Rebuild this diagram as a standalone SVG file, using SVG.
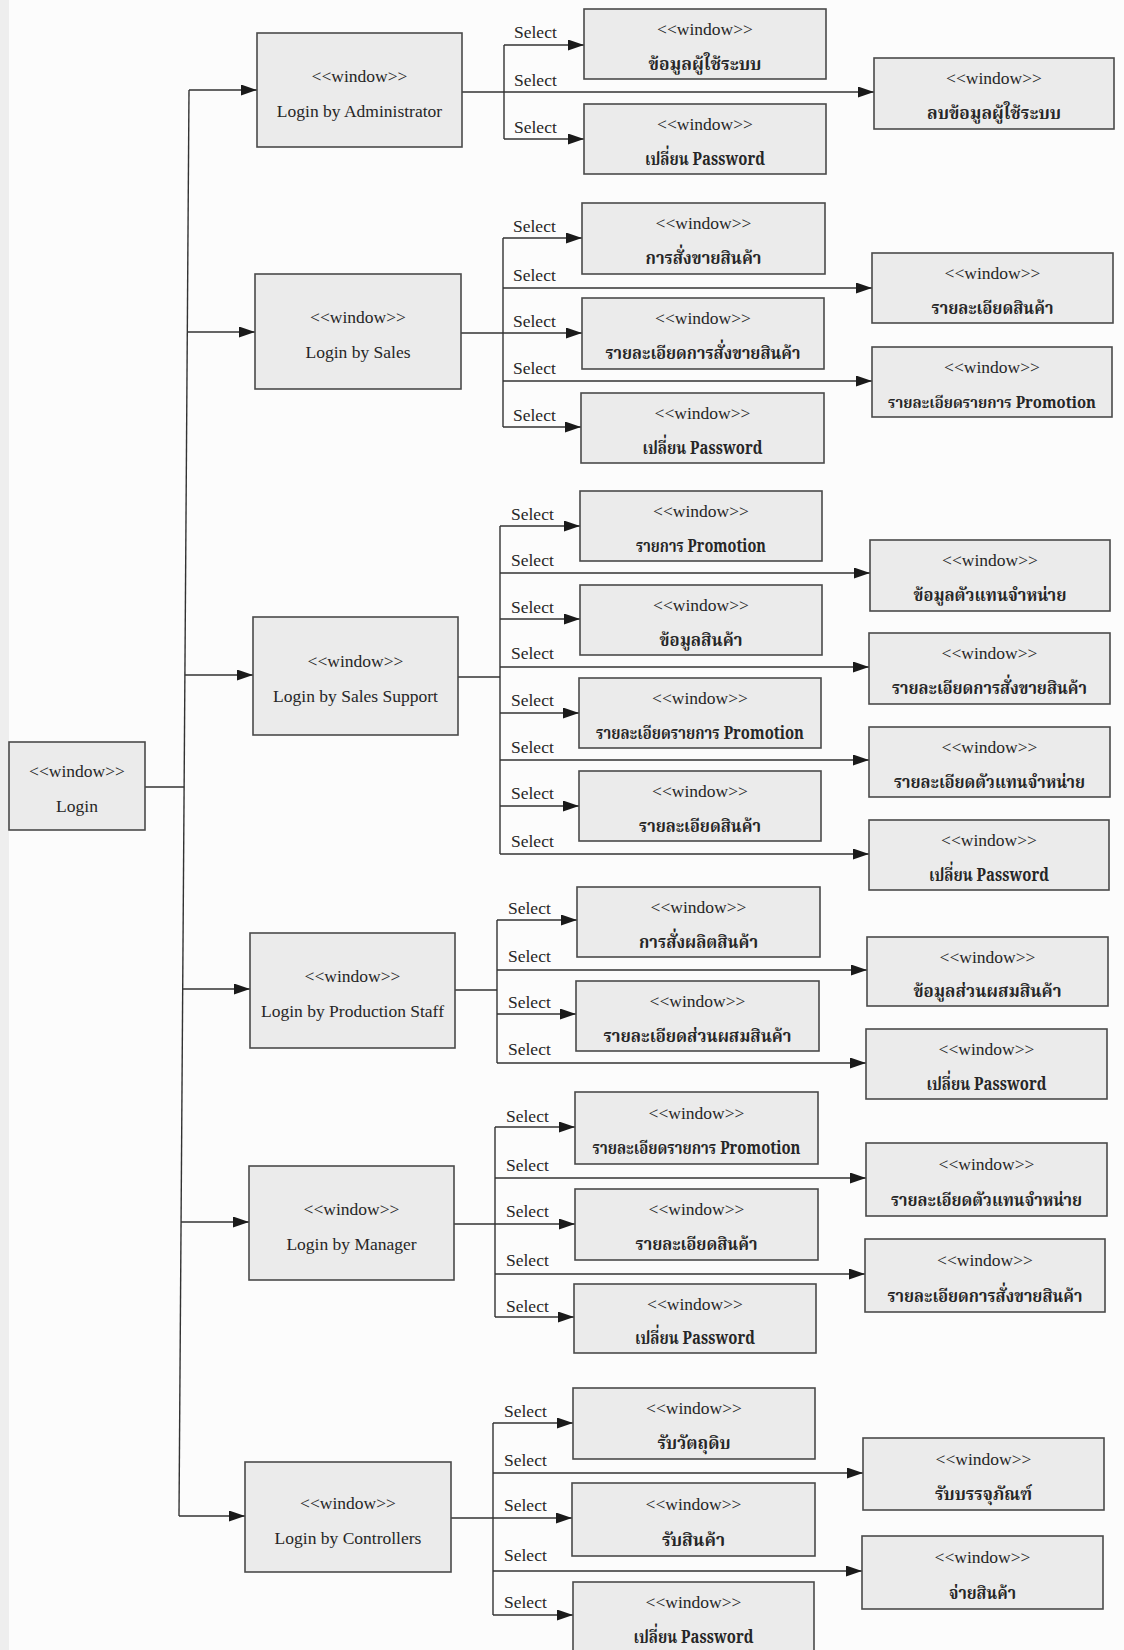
<svg xmlns="http://www.w3.org/2000/svg" width="1124" height="1650" viewBox="0 0 1124 1650">
<defs>
<style>
.bg{fill:#fcfcfc}
.box{fill:#ebebeb;stroke:#4a4a4a;stroke-width:1.6}
.w{font-family:"Liberation Serif","Times New Roman",serif;font-size:17.5px;fill:#262626;text-anchor:middle}
.th{font-family:"Noto Serif Thai","Noto Sans Thai","Liberation Serif","Garuda","Loma","Tlwg Typo",serif;font-size:18.5px;font-weight:bold;fill:#262626;text-anchor:middle}
.pr{font-size:17.5px}
.pr2{font-size:16px}
.sel{font-family:"Liberation Serif","Times New Roman",serif;font-size:17.5px;fill:#262626}
.ln{fill:none;stroke:#333;stroke-width:1.4}
.ar{fill:none;stroke:#333;stroke-width:1.4;marker-end:url(#ah)}
</style>
<marker id="ah" markerUnits="userSpaceOnUse" markerWidth="17" markerHeight="12" refX="16" refY="5.5" orient="auto">
<path d="M0,0 L16,5.5 L0,11 z" fill="#1a1a1a"/>
</marker>
</defs>
<rect class="bg" x="0" y="0" width="1124" height="1650"/>
<rect x="0" y="0" width="9" height="1650" fill="#eeeeee"/>

<g id="connectors">
<path class="ln" d="M189,90 L179,1516"/>
<path class="ln" d="M145,787 L184.1,787"/>
<path class="ar" d="M189,90 L257,90"/>
<path class="ar" d="M187.3,332 L255,332"/>
<path class="ar" d="M184.9,675 L253,675"/>
<path class="ar" d="M182.7,989 L250,989"/>
<path class="ar" d="M181.1,1222 L249,1222"/>
<path class="ar" d="M179,1516 L245,1516"/>

<path class="ln" d="M462,92 L504,92"/>
<path class="ln" d="M504,45 L504,139"/>
<path class="ar" d="M504,45 L584,45"/>
<path class="ar" d="M504,92 L874,92"/>
<path class="ar" d="M504,139 L584,139"/>

<path class="ln" d="M461,333 L503,333"/>
<path class="ln" d="M503,238 L503,427"/>
<path class="ar" d="M503,238 L582,238"/>
<path class="ar" d="M503,288 L872,288"/>
<path class="ar" d="M503,333 L582,333"/>
<path class="ar" d="M503,381 L872,381"/>
<path class="ar" d="M503,427 L581,427"/>

<path class="ln" d="M458,677 L500,677"/>
<path class="ln" d="M500,526 L500,854"/>
<path class="ar" d="M500,526 L580,526"/>
<path class="ar" d="M500,573 L870,573"/>
<path class="ar" d="M500,619 L580,619"/>
<path class="ar" d="M500,667 L869,667"/>
<path class="ar" d="M500,713 L579,713"/>
<path class="ar" d="M500,760 L869,760"/>
<path class="ar" d="M500,806 L579,806"/>
<path class="ar" d="M500,854 L869,854"/>

<path class="ln" d="M455,990 L497,990"/>
<path class="ln" d="M497,920 L497,1063"/>
<path class="ar" d="M497,920 L577,920"/>
<path class="ar" d="M497,970 L867,970"/>
<path class="ar" d="M497,1014 L576,1014"/>
<path class="ar" d="M497,1063 L866,1063"/>

<path class="ln" d="M454,1224 L495,1224"/>
<path class="ln" d="M495,1127 L495,1317"/>
<path class="ar" d="M495,1127 L575,1127"/>
<path class="ar" d="M495,1178 L866,1178"/>
<path class="ar" d="M495,1224 L575,1224"/>
<path class="ar" d="M495,1274 L865,1274"/>
<path class="ar" d="M495,1317 L574,1317"/>

<path class="ln" d="M451,1518 L493,1518"/>
<path class="ln" d="M493,1423 L493,1615"/>
<path class="ar" d="M493,1423 L573,1423"/>
<path class="ar" d="M493,1473 L863,1473"/>
<path class="ar" d="M493,1518 L572,1518"/>
<path class="ar" d="M493,1571 L862,1571"/>
<path class="ar" d="M493,1615 L573,1615"/>
</g>

<g id="labels">
<text class="sel" x="514" y="38">Select</text>
<text class="sel" x="514" y="86">Select</text>
<text class="sel" x="514" y="133">Select</text>
<text class="sel" x="513" y="232">Select</text>
<text class="sel" x="513" y="281">Select</text>
<text class="sel" x="513" y="327">Select</text>
<text class="sel" x="513" y="374">Select</text>
<text class="sel" x="513" y="421">Select</text>
<text class="sel" x="511" y="520">Select</text>
<text class="sel" x="511" y="566">Select</text>
<text class="sel" x="511" y="613">Select</text>
<text class="sel" x="511" y="659">Select</text>
<text class="sel" x="511" y="706">Select</text>
<text class="sel" x="511" y="753">Select</text>
<text class="sel" x="511" y="799">Select</text>
<text class="sel" x="511" y="847">Select</text>
<text class="sel" x="508" y="914">Select</text>
<text class="sel" x="508" y="962">Select</text>
<text class="sel" x="508" y="1008">Select</text>
<text class="sel" x="508" y="1055">Select</text>
<text class="sel" x="506" y="1122">Select</text>
<text class="sel" x="506" y="1171">Select</text>
<text class="sel" x="506" y="1217">Select</text>
<text class="sel" x="506" y="1266">Select</text>
<text class="sel" x="506" y="1312">Select</text>
<text class="sel" x="504" y="1417">Select</text>
<text class="sel" x="504" y="1466">Select</text>
<text class="sel" x="504" y="1511">Select</text>
<text class="sel" x="504" y="1561">Select</text>
<text class="sel" x="504" y="1608">Select</text>
</g>

<g id="n-login"><rect class="box" x="9" y="742" width="136" height="88"/><text class="w" x="77" y="777">&lt;&lt;window&gt;&gt;</text><text class="w" x="77" y="812">Login</text></g>
<g id="n-admin"><rect class="box" x="257" y="33" width="205" height="114"/><text class="w" x="359.5" y="82">&lt;&lt;window&gt;&gt;</text><text class="w" x="359.5" y="117">Login by Administrator</text></g>
<g id="n-sales"><rect class="box" x="255" y="274" width="206" height="115"/><text class="w" x="358" y="323">&lt;&lt;window&gt;&gt;</text><text class="w" x="358" y="358">Login by Sales</text></g>
<g id="n-salessupport"><rect class="box" x="253" y="617" width="205" height="118"/><text class="w" x="355.5" y="667">&lt;&lt;window&gt;&gt;</text><text class="w" x="355.5" y="702">Login by Sales Support</text></g>
<g id="n-production"><rect class="box" x="250" y="933" width="205" height="115"/><text class="w" x="352.5" y="982">&lt;&lt;window&gt;&gt;</text><text class="w" x="352.5" y="1017">Login by Production Staff</text></g>
<g id="n-manager"><rect class="box" x="249" y="1166" width="205" height="114"/><text class="w" x="351.5" y="1215">&lt;&lt;window&gt;&gt;</text><text class="w" x="351.5" y="1250">Login by Manager</text></g>
<g id="n-controllers"><rect class="box" x="245" y="1462" width="206" height="110"/><text class="w" x="348" y="1509">&lt;&lt;window&gt;&gt;</text><text class="w" x="348" y="1544">Login by Controllers</text></g>

<g id="n-a1"><rect class="box" x="584" y="9" width="242" height="70"/><text class="w" x="705" y="35">&lt;&lt;window&gt;&gt;</text><text class="th" x="705" y="70" textLength="113" lengthAdjust="spacingAndGlyphs">ข้อมูลผู้ใช้ระบบ</text></g>
<g id="n-a2"><rect class="box" x="874" y="58" width="240" height="71"/><text class="w" x="994" y="84">&lt;&lt;window&gt;&gt;</text><text class="th" x="994" y="119" textLength="134" lengthAdjust="spacingAndGlyphs">ลบข้อมูลผู้ใช้ระบบ</text></g>
<g id="n-a3"><rect class="box" x="584" y="104" width="242" height="70"/><text class="w" x="705" y="130">&lt;&lt;window&gt;&gt;</text><text class="th" x="705" y="165" textLength="120" lengthAdjust="spacingAndGlyphs">เปลี่ยน Password</text></g>

<g id="n-s1"><rect class="box" x="582" y="203" width="243" height="71"/><text class="w" x="703.5" y="229">&lt;&lt;window&gt;&gt;</text><text class="th" x="703.5" y="264" textLength="116" lengthAdjust="spacingAndGlyphs">การสั่งขายสินค้า</text></g>
<g id="n-s2"><rect class="box" x="872" y="253" width="241" height="70"/><text class="w" x="992.5" y="279">&lt;&lt;window&gt;&gt;</text><text class="th" x="992.5" y="314" textLength="122" lengthAdjust="spacingAndGlyphs">รายละเอียดสินค้า</text></g>
<g id="n-s3"><rect class="box" x="582" y="298" width="242" height="71"/><text class="w" x="703" y="324">&lt;&lt;window&gt;&gt;</text><text class="th" x="703" y="359" textLength="195" lengthAdjust="spacingAndGlyphs">รายละเอียดการสั่งขายสินค้า</text></g>
<g id="n-s4"><rect class="box" x="872" y="347" width="240" height="70"/><text class="w" x="992" y="373">&lt;&lt;window&gt;&gt;</text><text class="th pr2" x="992" y="408" textLength="208" lengthAdjust="spacingAndGlyphs">รายละเอียดรายการ Promotion</text></g>
<g id="n-s5"><rect class="box" x="581" y="393" width="243" height="70"/><text class="w" x="702.5" y="419">&lt;&lt;window&gt;&gt;</text><text class="th" x="702.5" y="454" textLength="120" lengthAdjust="spacingAndGlyphs">เปลี่ยน Password</text></g>

<g id="n-ss1"><rect class="box" x="580" y="491" width="242" height="70"/><text class="w" x="701" y="517">&lt;&lt;window&gt;&gt;</text><text class="th" x="701" y="552" textLength="130" lengthAdjust="spacingAndGlyphs">รายการ Promotion</text></g>
<g id="n-ss2"><rect class="box" x="870" y="540" width="240" height="71"/><text class="w" x="990" y="566">&lt;&lt;window&gt;&gt;</text><text class="th" x="990" y="601" textLength="153" lengthAdjust="spacingAndGlyphs">ข้อมูลตัวแทนจำหน่าย</text></g>
<g id="n-ss3"><rect class="box" x="580" y="585" width="242" height="70"/><text class="w" x="701" y="611">&lt;&lt;window&gt;&gt;</text><text class="th" x="701" y="646" textLength="83" lengthAdjust="spacingAndGlyphs">ข้อมูลสินค้า</text></g>
<g id="n-ss4"><rect class="box" x="869" y="633" width="241" height="71"/><text class="w" x="989.5" y="659">&lt;&lt;window&gt;&gt;</text><text class="th" x="989.5" y="694" textLength="195" lengthAdjust="spacingAndGlyphs">รายละเอียดการสั่งขายสินค้า</text></g>
<g id="n-ss5"><rect class="box" x="579" y="678" width="242" height="70"/><text class="w" x="700" y="704">&lt;&lt;window&gt;&gt;</text><text class="th pr" x="700" y="739" textLength="208" lengthAdjust="spacingAndGlyphs">รายละเอียดรายการ Promotion</text></g>
<g id="n-ss6"><rect class="box" x="869" y="727" width="241" height="70"/><text class="w" x="989.5" y="753">&lt;&lt;window&gt;&gt;</text><text class="th" x="989.5" y="788" textLength="191" lengthAdjust="spacingAndGlyphs">รายละเอียดตัวแทนจำหน่าย</text></g>
<g id="n-ss7"><rect class="box" x="579" y="771" width="242" height="70"/><text class="w" x="700" y="797">&lt;&lt;window&gt;&gt;</text><text class="th" x="700" y="832" textLength="122" lengthAdjust="spacingAndGlyphs">รายละเอียดสินค้า</text></g>
<g id="n-ss8"><rect class="box" x="869" y="820" width="240" height="70"/><text class="w" x="989" y="846">&lt;&lt;window&gt;&gt;</text><text class="th" x="989" y="881" textLength="120" lengthAdjust="spacingAndGlyphs">เปลี่ยน Password</text></g>

<g id="n-p1"><rect class="box" x="577" y="887" width="243" height="70"/><text class="w" x="698.5" y="913">&lt;&lt;window&gt;&gt;</text><text class="th" x="698.5" y="948" textLength="119" lengthAdjust="spacingAndGlyphs">การสั่งผลิตสินค้า</text></g>
<g id="n-p2"><rect class="box" x="867" y="937" width="241" height="69"/><text class="w" x="987.5" y="963">&lt;&lt;window&gt;&gt;</text><text class="th" x="987.5" y="997" textLength="148" lengthAdjust="spacingAndGlyphs">ข้อมูลส่วนผสมสินค้า</text></g>
<g id="n-p3"><rect class="box" x="576" y="981" width="243" height="70"/><text class="w" x="697.5" y="1007">&lt;&lt;window&gt;&gt;</text><text class="th" x="697.5" y="1042" textLength="188" lengthAdjust="spacingAndGlyphs">รายละเอียดส่วนผสมสินค้า</text></g>
<g id="n-p4"><rect class="box" x="866" y="1029" width="241" height="70"/><text class="w" x="986.5" y="1055">&lt;&lt;window&gt;&gt;</text><text class="th" x="986.5" y="1090" textLength="120" lengthAdjust="spacingAndGlyphs">เปลี่ยน Password</text></g>

<g id="n-m1"><rect class="box" x="575" y="1092" width="243" height="72"/><text class="w" x="696.5" y="1119">&lt;&lt;window&gt;&gt;</text><text class="th pr" x="696.5" y="1154" textLength="208" lengthAdjust="spacingAndGlyphs">รายละเอียดรายการ Promotion</text></g>
<g id="n-m2"><rect class="box" x="866" y="1143" width="241" height="73"/><text class="w" x="986.5" y="1170">&lt;&lt;window&gt;&gt;</text><text class="th" x="986.5" y="1206" textLength="191" lengthAdjust="spacingAndGlyphs">รายละเอียดตัวแทนจำหน่าย</text></g>
<g id="n-m3"><rect class="box" x="575" y="1189" width="243" height="71"/><text class="w" x="696.5" y="1215">&lt;&lt;window&gt;&gt;</text><text class="th" x="696.5" y="1250" textLength="122" lengthAdjust="spacingAndGlyphs">รายละเอียดสินค้า</text></g>
<g id="n-m4"><rect class="box" x="865" y="1239" width="240" height="73"/><text class="w" x="985" y="1266">&lt;&lt;window&gt;&gt;</text><text class="th" x="985" y="1302" textLength="195" lengthAdjust="spacingAndGlyphs">รายละเอียดการสั่งขายสินค้า</text></g>
<g id="n-m5"><rect class="box" x="574" y="1284" width="242" height="69"/><text class="w" x="695" y="1310">&lt;&lt;window&gt;&gt;</text><text class="th" x="695" y="1344" textLength="120" lengthAdjust="spacingAndGlyphs">เปลี่ยน Password</text></g>

<g id="n-c1"><rect class="box" x="573" y="1388" width="242" height="71"/><text class="w" x="694" y="1414">&lt;&lt;window&gt;&gt;</text><text class="th" x="694" y="1449" textLength="73" lengthAdjust="spacingAndGlyphs">รับวัตถุดิบ</text></g>
<g id="n-c2"><rect class="box" x="863" y="1438" width="241" height="72"/><text class="w" x="983.5" y="1465">&lt;&lt;window&gt;&gt;</text><text class="th" x="983.5" y="1500" textLength="97" lengthAdjust="spacingAndGlyphs">รับบรรจุภัณฑ์</text></g>
<g id="n-c3"><rect class="box" x="572" y="1483" width="243" height="73"/><text class="w" x="693.5" y="1510">&lt;&lt;window&gt;&gt;</text><text class="th" x="693.5" y="1546" textLength="63" lengthAdjust="spacingAndGlyphs">รับสินค้า</text></g>
<g id="n-c4"><rect class="box" x="862" y="1536" width="241" height="73"/><text class="w" x="982.5" y="1563">&lt;&lt;window&gt;&gt;</text><text class="th" x="982.5" y="1599" textLength="67" lengthAdjust="spacingAndGlyphs">จ่ายสินค้า</text></g>
<g id="n-c5"><rect class="box" x="573" y="1582" width="241" height="74"/><text class="w" x="693.5" y="1608">&lt;&lt;window&gt;&gt;</text><text class="th" x="693.5" y="1643" textLength="120" lengthAdjust="spacingAndGlyphs">เปลี่ยน Password</text></g>
</svg>
